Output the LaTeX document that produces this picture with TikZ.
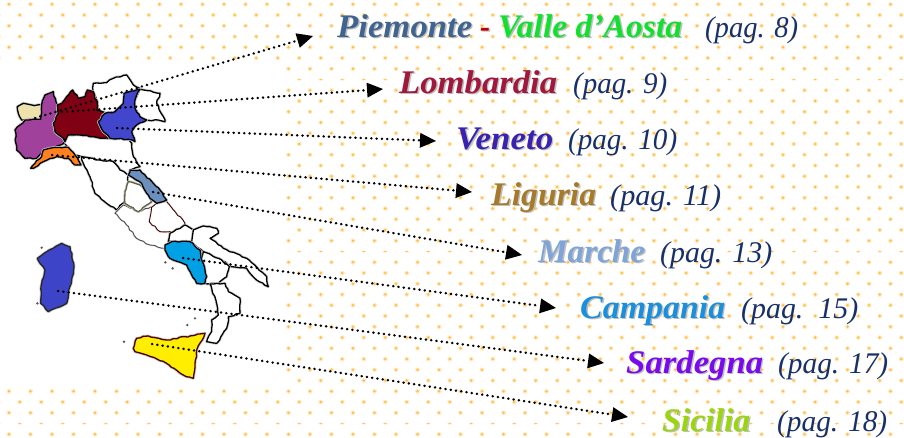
\documentclass[tikz,border=0pt]{standalone}
\usepackage{fontspec}
\usepackage{graphicx}
\setmainfont{Liberation Serif}
\usetikzlibrary{arrows.meta,decorations.pathmorphing}
\definecolor{dotc}{HTML}{FFC04A}
\definecolor{halo}{HTML}{FFEBC8}
\definecolor{navy}{HTML}{17306A}
\definecolor{piem}{HTML}{3F6490}
\definecolor{dashr}{HTML}{C00000}
\definecolor{valle}{HTML}{12E02F}
\definecolor{lomb}{HTML}{A0183C}
\definecolor{vene}{HTML}{3A22B0}
\definecolor{ligu}{HTML}{A67A2A}
\definecolor{marc}{HTML}{7FA5D8}
\definecolor{camp}{HTML}{1B8FDB}
\definecolor{sard}{HTML}{7A0AEE}
\definecolor{sici}{HTML}{9AD60F}
\tikzset{
  zo/.style={x=0.33333pt,y=-0.33333pt,shift={(0,180)}},
  zt/.style={x=0.33333pt,y=-0.33333pt,shift={(60,600)}},
  ze/.style={x=0.33333pt,y=-0.33333pt,shift={(270,510)}},
  wig/.style={decorate,decoration={random steps,segment length=3.5pt,amplitude=0.7pt}},
  region/.style={draw=black,line width=1.3pt,line join=round,
    preaction={fill},preaction={draw=black!22,line width=2.8pt,line join=round},
    wig},
  thinreg/.style={draw=black!70,line width=0.9pt,line join=round,
    preaction={fill},preaction={draw=black!12,line width=2pt,line join=round},
    wig},
  pointer/.style={draw=black,line width=2.5pt,line cap=round,dash pattern=on 0.3pt off 5pt,
    -{Triangle[length=16pt,width=15pt,line width=0pt,fill=black]}},
  lab/.style={anchor=base west,inner sep=0pt,font=\fontsize{33}{36}\selectfont\bfseries\itshape},
  pag/.style={anchor=base west,inner sep=0pt,text=navy,font=\fontsize{30}{36}\selectfont\itshape},
  speck/.style={fill=black!65,draw=none},
}
\newcommand{\shlab}[6]{%
  \node[lab,text=black!25] (#1s) at (#2+1.4,#3+1.4) {\resizebox{#4pt}{\height}{#6}};
  \node[lab,text=#5] (#1) at (#2,#3) {\resizebox{#4pt}{\height}{#6}};}
\begin{document}
\begin{tikzpicture}[x=1pt,y=-1pt]
\pgfmathsetseed{7}
\useasboundingbox (0,0) rectangle (904,437);
\fill[white] (0,0) rectangle (904,437);
% dotted paper
\foreach \r in {0,...,40}{
  \pgfmathsetmacro{\yy}{4.3+10.75*\r}
  \pgfmathsetmacro{\xo}{mod(\r,2)==0 ? 9 : -1.75}
  \pgfmathsetmacro{\ry}{(\r==7||\r==23||\r==39) ? 1.0 : 2.3}
  \foreach \c in {0,...,42}{
    \pgfmathsetmacro{\xx}{\xo+21.5*\c}
    \fill[halo] (\xx,\yy) ellipse [x radius=2.5pt,y radius=\ry pt];
    \fill[dotc] (\xx,\yy) ellipse [x radius=1.4pt,y radius=\ry*0.6 pt];
  }
}
\fill[white] (-1,63.5) rectangle (283,386);
% mainland: plain regions
\begin{scope}[zo]
  \path[region,fill=white] (280,70)--(320,68)--(340,55)--(380,45)--(400,75)--(420,85)--(372,100)--(370,130)--(345,155)--(315,160)--(290,150)--(292,130)--(280,95)--cycle;
  \path[region,fill=white] (420,88)--(480,100)--(470,130)--(490,170)--(495,185)--(475,180)--(440,180)--(420,170)--(405,145)--(405,120)--cycle;
  \path[region,fill=white] (205,225)--(240,225)--(290,232)--(330,235)--(385,238)--(395,250)--(400,290)--(420,320)--(390,330)--(385,345)--(360,330)--(340,305)--(300,300)--(245,290)--(225,285)--(205,262)--(192,250)--(195,245)--cycle;
  \path[region,fill=white] (245,290)--(300,300)--(340,305)--(360,330)--(385,345)--(375,420)--(350,450)--(320,430)--(285,400)--(270,350)--(250,310)--cycle;
\end{scope}
\begin{scope}[ze]
  \path[thinreg,fill=white] (75,130)--(100,105)--(145,125)--(185,110)--(178,150)--(210,185)--(240,190)--(235,215)--(225,235)--(180,225)--(140,205)--(110,165)--cycle;
  \path[thinreg,draw=black!75!red,fill=white] (185,112)--(205,95)--(230,95)--(285,160)--(275,180)--(240,185)--(210,185)--(178,155)--cycle;
  \path[region,fill=white] (240,190)--(285,165)--(310,180)--(305,215)--(235,215)--cycle;
  \path[region,fill=white] (310,180)--(340,168)--(380,175)--(385,190)--(360,205)--(400,235)--(470,265)--(530,320)--(535,350)--(500,330)--(470,295)--(425,290)--(395,270)--(340,245)--(305,215)--cycle;
  \path[region,fill=white] (340,245)--(395,270)--(418,290)--(410,320)--(385,340)--(345,340)--(350,320)--(335,270)--cycle;
  \path[region,draw=black!70!yellow,fill=white] (115,35)--(150,45)--(165,60)--(185,95)--(145,125)--(105,100)--(105,65)--cycle;
\end{scope}
\begin{scope}[zt]
  \path[region,fill=white] (570,252)--(615,250)--(625,275)--(660,295)--(660,340)--(625,350)--(620,385)--(590,430)--(560,425)--(575,395)--(575,360)--(595,345)--(590,310)--cycle;
\end{scope}
% coloured regions
\begin{scope}[zo]
  \path[region,fill={rgb,255:red,238;green,226;blue,172}] (52,140)--(70,130)--(95,135)--(122,135)--(122,178)--(65,180)--(55,160)--cycle;
  \path[region,fill={rgb,255:red,160;green,66;blue,155}] (125,135)--(135,105)--(160,95)--(168,125)--(172,135)--(175,160)--(160,190)--(165,215)--(190,235)--(192,250)--(165,262)--(130,270)--(110,295)--(75,295)--(50,270)--(45,210)--(60,195)--(75,180)--(122,178)--cycle;
  \path[region,fill={rgb,255:red,128;green,0;blue,20}] (172,135)--(185,130)--(200,110)--(218,90)--(235,115)--(255,110)--(262,90)--(280,95)--(292,130)--(290,150)--(315,160)--(295,185)--(310,215)--(330,235)--(290,232)--(240,225)--(205,225)--(195,245)--(190,235)--(165,215)--(160,190)--(175,160)--cycle;
  \path[region,fill={rgb,255:red,66;green,70;blue,205}] (372,100)--(420,88)--(405,120)--(405,145)--(420,170)--(440,180)--(410,195)--(395,215)--(405,245)--(385,238)--(330,235)--(310,215)--(295,185)--(315,160)--(345,155)--(370,130)--cycle;
  \path[region,fill={rgb,255:red,255;green,128;blue,30}] (92,325)--(105,310)--(125,290)--(130,270)--(165,262)--(205,262)--(225,285)--(243,315)--(225,315)--(205,295)--(170,290)--(130,305)--(100,325)--cycle;
  \path[region,fill={rgb,255:red,108;green,144;blue,190}] (390,330)--(420,330)--(460,370)--(480,390)--(500,420)--(470,430)--(450,415)--(440,400)--(425,370)--(385,345)--cycle;
\end{scope}
\begin{scope}[ze]
  \path[region,fill={rgb,255:red,0;green,160;blue,228}] (225,225)--(245,215)--(300,215)--(330,240)--(335,270)--(350,320)--(345,340)--(320,340)--(305,315)--(290,285)--(240,265)--(225,240)--cycle;
\end{scope}
\begin{scope}[zt]
  \path[region,draw=black!85,fill={rgb,255:red,62;green,68;blue,200}] (52,175)--(80,155)--(125,130)--(150,140)--(162,200)--(155,240)--(140,310)--(105,325)--(85,335)--(62,310)--(65,250)--(75,210)--(60,190)--cycle;
  \path[region,draw=black!70!red,fill={rgb,255:red,255;green,238;blue,0}] (340,445)--(350,415)--(385,408)--(440,420)--(555,400)--(530,450)--(525,500)--(520,535)--(490,525)--(440,490)--(380,465)--(345,455)--cycle;
  \foreach \p/\q in {436/187,458/205,525/355,502/375,312/425,52/310,65/143}
    \fill[speck] (\p,\q) circle [radius=4];
\end{scope}
% anchors of the pointers
\coordinate (a1) at (35,118);   \coordinate (b1) at (313,36);
\coordinate (a2) at (62,112);   \coordinate (b2) at (383,89);
\coordinate (a3) at (117,128);  \coordinate (b3) at (436,141);
\coordinate (a4) at (52,155);   \coordinate (b4) at (472,192);
\coordinate (a5) at (153,192);  \coordinate (b5) at (522,255);
\coordinate (a6) at (183,258);  \coordinate (b6) at (556,308);
\coordinate (a7) at (58,291);   \coordinate (b7) at (604,363);
\coordinate (a8) at (152,344);  \coordinate (b8) at (628,417);
\foreach \i in {1,...,8} \draw[pointer] (a\i) -- (b\i);
% labels
\shlab{piemonte}{337}{37.5}{135}{piem}{Piemonte}
\shlab{dash}{480}{37.5}{10}{dashr}{-}
\shlab{valle}{498}{37.5}{184}{valle}{Valle d’Aosta}
\node[pag] (p8) at (705,37.5) {\resizebox{93pt}{\height}{(pag. 8)}};
\shlab{lombardia}{399}{93}{158}{lomb}{Lombardia}
\node[pag] (p9) at (573,93) {\resizebox{94pt}{\height}{(pag. 9)}};
\shlab{veneto}{456}{149}{97}{vene}{Veneto}
\node[pag] (p10) at (568,149) {\resizebox{109pt}{\height}{(pag. 10)}};
\shlab{liguria}{491}{205}{105}{ligu}{Liguria}
\node[pag] (p11) at (610,205) {\resizebox{111pt}{\height}{(pag. 11)}};
\shlab{marche}{538}{262}{107}{marc}{Marche}
\node[pag] (p13) at (660,262) {\resizebox{112pt}{\height}{(pag. 13)}};
\shlab{campania}{580}{318}{145}{camp}{Campania}
\node[pag] (p15) at (741,318) {\resizebox{117pt}{\height}{(pag.\ \ 15)}};
\shlab{sardegna}{626}{373.5}{137}{sard}{Sardegna}
\node[pag] (p17) at (778,373.5) {\resizebox{110pt}{\height}{(pag. 17)}};
\shlab{sicilia}{662}{431.5}{88}{sici}{Sicilia}
\node[pag] (p18) at (777,431.5) {\resizebox{110pt}{\height}{(pag. 18)}};
\end{tikzpicture}
\end{document}
